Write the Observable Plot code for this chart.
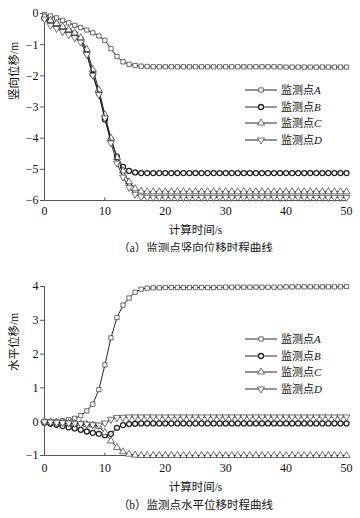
<!DOCTYPE html>
<html><head><meta charset="utf-8">
<script src="https://cdn.jsdelivr.net/npm/d3@7"></script>
<script src="https://cdn.jsdelivr.net/npm/@observablehq/plot@0.6"></script>
<style>
body{margin:0;background:#fff;width:360px;height:518px;position:relative;overflow:hidden}
.chart{position:absolute;left:0}
.legend{position:absolute;left:245px;font-family:"Liberation Serif","Noto Sans CJK SC",serif;font-size:11px;color:#111;line-height:16.5px}
.legend div{display:flex;align-items:center;height:16.5px}
.legend svg{margin-right:2px}
</style></head><body>
<div id="c1" class="chart" style="top:0"></div>
<div id="c2" class="chart" style="top:252px"></div>
<div id="l1" class="legend" style="top:82px"></div>
<div id="l2" class="legend" style="top:331px"></div>
<script>
// time samples (s)
const time = [0,1,2,3,4,5,6,7,8,9,10,11,12,13,14,15,16,17,18,19,20,21,22,23,24,25,26,27,28,29,30,31,32,33,34,35,36,37,38,39,40,41,42,43,44,45,46,47,48,49,50];

// (a) vertical displacement (m)
const vertA = [-0.03,-0.08,-0.14,-0.22,-0.30,-0.38,-0.45,-0.53,-0.62,-0.72,
  -0.86,-1.13,-1.38,-1.55,-1.63,-1.67,-1.69,-1.70,-1.71,-1.71,
  -1.71,-1.71,-1.71,-1.71,-1.71,-1.71,-1.71,-1.71,-1.71,-1.71,
  -1.71,-1.71,-1.71,-1.71,-1.71,-1.71,-1.71,-1.71,-1.71,-1.71,
  -1.72,-1.72,-1.72,-1.72,-1.72,-1.72,-1.72,-1.72,-1.72,-1.72,-1.72];
const vertB = [-0.15,-0.25,-0.35,-0.45,-0.55,-0.65,-0.82,-1.25,-1.95,-2.55,
  -3.40,-4.05,-4.60,-4.92,-5.05,-5.10,-5.12,-5.12,-5.12,-5.12,
  -5.12,-5.12,-5.12,-5.12,-5.12,-5.12,-5.12,-5.12,-5.12,-5.12,
  -5.12,-5.12,-5.12,-5.12,-5.12,-5.12,-5.12,-5.12,-5.12,-5.12,
  -5.12,-5.12,-5.12,-5.12,-5.12,-5.12,-5.12,-5.12,-5.12,-5.12,-5.12];
const vertC = [-0.10,-0.22,-0.32,-0.42,-0.52,-0.62,-0.78,-1.15,-1.80,-2.45,
  -3.25,-4.00,-4.62,-5.05,-5.40,-5.62,-5.70,-5.72,-5.72,-5.72,
  -5.72,-5.72,-5.72,-5.72,-5.72,-5.72,-5.72,-5.72,-5.72,-5.72,
  -5.72,-5.72,-5.72,-5.72,-5.72,-5.72,-5.72,-5.72,-5.72,-5.72,
  -5.72,-5.72,-5.72,-5.72,-5.72,-5.72,-5.72,-5.72,-5.72,-5.72,-5.72];
const vertD = [-0.18,-0.38,-0.48,-0.58,-0.68,-0.78,-0.92,-1.32,-1.98,-2.60,
  -3.35,-4.15,-4.80,-5.25,-5.58,-5.80,-5.88,-5.90,-5.90,-5.90,
  -5.90,-5.90,-5.90,-5.90,-5.90,-5.90,-5.90,-5.90,-5.90,-5.90,
  -5.90,-5.90,-5.90,-5.90,-5.90,-5.90,-5.90,-5.90,-5.90,-5.90,
  -5.90,-5.90,-5.90,-5.90,-5.90,-5.90,-5.90,-5.90,-5.90,-5.90,-5.90];

// (b) horizontal displacement (m)
const horA = [0,0,0.01,0.03,0.06,0.10,0.18,0.32,0.52,0.95,
  1.68,2.48,3.08,3.45,3.66,3.83,3.92,3.95,3.96,3.96,
  3.97,3.97,3.97,3.97,3.97,3.97,3.97,3.97,3.97,3.97,
  3.98,3.98,3.98,3.98,3.98,3.98,3.98,3.98,3.98,3.98,
  3.99,3.99,3.99,3.99,3.99,3.99,3.99,3.99,3.99,3.99,4.00];
const horB = [-0.03,-0.06,-0.09,-0.13,-0.17,-0.20,-0.24,-0.29,-0.33,-0.36,
  -0.40,-0.36,-0.18,-0.10,-0.07,-0.06,-0.05,-0.05,-0.05,-0.05,
  -0.05,-0.05,-0.05,-0.05,-0.05,-0.05,-0.05,-0.05,-0.05,-0.05,
  -0.05,-0.05,-0.05,-0.05,-0.05,-0.05,-0.05,-0.05,-0.05,-0.05,
  -0.05,-0.05,-0.05,-0.05,-0.05,-0.05,-0.05,-0.05,-0.05,-0.05,-0.05];
const horC = [0,-0.01,-0.02,-0.03,-0.04,-0.05,-0.06,-0.08,-0.10,-0.15,
  -0.32,-0.57,-0.76,-0.89,-0.96,-0.99,-1.00,-1.00,-1.00,-1.00,
  -1.00,-1.00,-1.00,-1.00,-1.00,-1.00,-1.00,-1.00,-1.00,-1.00,
  -1.00,-1.00,-1.00,-1.00,-1.00,-1.00,-1.00,-1.00,-1.00,-1.00,
  -1.00,-1.00,-1.00,-1.00,-1.00,-1.00,-1.00,-1.00,-1.00,-1.00,-1.00];
const horD = [0,-0.01,-0.02,-0.03,-0.04,-0.05,-0.06,-0.07,-0.09,-0.10,
  -0.04,0.07,0.12,0.13,0.14,0.14,0.14,0.14,0.14,0.14,
  0.14,0.14,0.14,0.14,0.14,0.14,0.14,0.14,0.14,0.14,
  0.14,0.14,0.14,0.14,0.14,0.14,0.14,0.14,0.14,0.14,
  0.14,0.14,0.14,0.14,0.14,0.14,0.14,0.14,0.14,0.14,0.14];

const xTicks = [0,10,20,30,40,50];
const yTicksA = [-6,-5,-4,-3,-2,-1,0];
const yTicksB = [-1,0,1,2,3,4];
const legendA = ["A","B","C","D"];
const legendB = ["A","B","C","D"];

const triDown = {draw(ctx, size){
  const y = -Math.sqrt(size / (Math.sqrt(3) * 3)), s3 = Math.sqrt(3);
  ctx.moveTo(0, -y * 2); ctx.lineTo(-s3 * y, y); ctx.lineTo(s3 * y, y); ctx.closePath();
}};
const styles = [
  {symbol:"square", r:2.4, stroke:"#444", sw:0.8},
  {symbol:"circle", r:2.5, stroke:"#222", sw:1.3},
  {symbol:"triangle", r:2.6, stroke:"#333", sw:0.7},
  {symbol:triDown, r:2.6, stroke:"#333", sw:0.7}
];
const FONT = '"Liberation Serif","Noto Sans CJK SC",serif';

function chart(el, series, yDomain, yTicks, yLabel, caption, height, mt, mb, tp, yLabDy) {
  const rows = [];
  series.forEach((vals, k) => time.forEach((t, i) => rows.push({t, v: vals[i], k})));
  const marks = [
    Plot.axisX(xTicks, {tickSize:0, tickPadding:tp, label:null, fontSize:12, color:"#111"}),
    Plot.axisY(yTicks, {tickSize:4, tickPadding:2, label:null, fontSize:12, color:"#111", stroke:"#555"}),
    Plot.ruleX(xTicks.slice(1, -1), {y1: yDomain[0], y2: yDomain[0] + (yDomain[1]-yDomain[0]) * 0.015, stroke:"#555"}),
    Plot.ruleX([0], {stroke:"#555", strokeWidth:1}),
    Plot.ruleY([yDomain[0]], {stroke:"#555", strokeWidth:1})
  ];
  series.forEach((vals, k) => {
    const d = rows.filter(r => r.k === k);
    const s = styles[k];
    marks.push(Plot.line(d, {x:"t", y:"v", stroke:"#111", strokeWidth:0.9}));
    marks.push(Plot.dot(d, {x:"t", y:"v", symbol:() => s.symbol, r:s.r, stroke:s.stroke, strokeWidth:s.sw, fill:"white"}));
  });
  marks.push(
    Plot.text(["计算时间/s"], {frameAnchor:"bottom", lineAnchor:"middle", dy: tp + 24, fontSize:11.5, fill:"#111"}),
    Plot.text([yLabel], {frameAnchor:"left", dx:-30, dy:yLabDy, rotate:-90, fontSize:11.5, fill:"#111"}),
    Plot.text([caption], {frameAnchor:"bottom", lineAnchor:"middle", dy: tp + 42, fontSize:11.5, fill:"#111"})
  );
  const p = Plot.plot({
    width:360, height, marginLeft:44, marginRight:14, marginTop:mt, marginBottom:mb,
    style:{fontFamily:FONT, fontSize:"12px", background:"white", overflow:"visible"},
    x:{domain:[0,50]}, y:{domain:yDomain},
    symbol:{type:"identity"},
    marks
  });
  document.getElementById(el).appendChild(p);
}

function legend(el, labels) {
  const box = document.getElementById(el);
  labels.forEach((lab, k) => {
    const s = styles[k];
    const type = typeof s.symbol === "string" ? {square:d3.symbolSquare, circle:d3.symbolCircle, triangle:d3.symbolTriangle}[s.symbol] : s.symbol;
    const path = d3.symbol().type(type).size(s.r * s.r * Math.PI)();
    const row = document.createElement("div");
    row.innerHTML = `<svg width="34" height="12"><line x1="0" x2="32" y1="6" y2="6" stroke="#111" stroke-width="0.9"/>`+
      `<path d="${path}" transform="translate(16,6)" fill="white" stroke="${s.stroke}" stroke-width="${s.sw}"/></svg>`+
      `<span>监测点<i>${lab}</i></span>`;
    box.appendChild(row);
  });
}

chart("c1", [vertA, vertB, vertC, vertD], [-6, 0], yTicksA, "竖向位移/m", "（a）监测点竖向位移时程曲线", 252, 13, 52, 6, -7);
chart("c2", [horA, horB, horC, horD], [-1, 4], yTicksB, "水平位移/m", "（b）监测点水平位移时程曲线", 266, 34, 63, 8, 0);
legend("l1", legendA);
legend("l2", legendB);
</script>
</body></html>
